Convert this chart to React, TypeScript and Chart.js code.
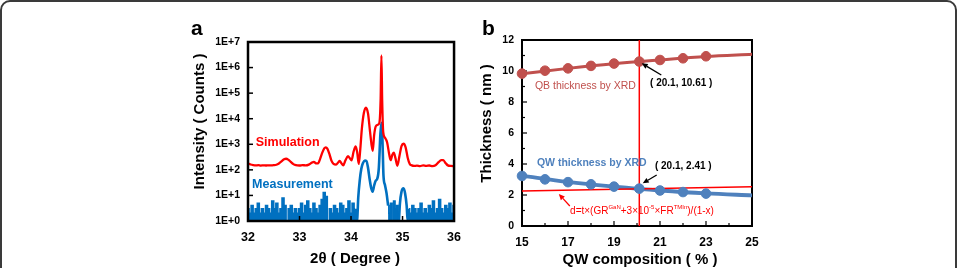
import React, { useEffect, useRef } from "react";
import { Chart, registerables } from "chart.js";
Chart.register(...registerables);

const FONT = "'Liberation Sans', Arial, Helvetica, sans-serif";
const RED = "#ff0000";
const BLUE = "#0070c0";
const QB_COLOR = "#c0504d";
const QW_COLOR = "#4f81bd";

// ---------------- Panel a : XRD scan ----------------
const simAngle = [
  32.0, 32.05, 32.1, 32.15, 32.2, 32.25, 32.3, 32.35, 32.4, 32.45, 32.5, 32.55, 32.6, 32.65, 32.7, 32.74,
  32.78, 32.83, 32.88, 32.93, 33.0, 33.06, 33.12, 33.18, 33.24, 33.28, 33.32, 33.36, 33.4, 33.44, 33.48,
  33.51, 33.54, 33.58, 33.62, 33.66, 33.71, 33.75, 33.78, 33.81, 33.85, 33.89, 33.94, 33.98, 34.01, 34.05,
  34.09, 34.12, 34.15, 34.18, 34.21, 34.25, 34.29, 34.33, 34.37, 34.42, 34.45, 34.48, 34.52, 34.55, 34.575,
  34.59, 34.605, 34.625, 34.66, 34.7, 34.74, 34.77, 34.8, 34.83, 34.86, 34.9, 34.94, 34.98, 35.02, 35.06,
  35.1, 35.14, 35.18, 35.22, 35.28, 35.34, 35.4, 35.46, 35.52, 35.58, 35.64, 35.7, 35.75, 35.79, 35.84,
  35.88, 35.94, 36.0,
];
const simIntensity = [
  175, 162, 154, 150, 152, 147, 151, 148, 150, 149, 152, 158, 178, 215, 258, 272,
  252, 205, 168, 152, 148, 154, 149, 160, 192, 205, 180, 178, 270, 460, 690,
  760, 680, 420, 230, 170, 160, 195, 222, 185, 150, 230, 340, 280, 235, 520,
  830, 480, 170, 650, 4000, 17000, 27000, 16000, 3000, 550, 2400, 5000, 5800, 6800, 60000,
  3000000, 50000, 3000, 1800, 1200, 420, 240, 380, 470, 300, 145, 350, 850, 1050, 760,
  300, 170, 150, 142, 147, 141, 149, 143, 148, 141, 152, 200, 240, 238, 180,
  150, 143, 140,
];

// measurement, background noise 32.00 - 34.08
const measNoiseAngle1 = [
  32.0, 32.04, 32.08, 32.12, 32.16, 32.2, 32.24, 32.28, 32.32, 32.36, 32.4, 32.44, 32.48, 32.52, 32.56,
  32.6, 32.64, 32.68, 32.72, 32.76, 32.8, 32.84, 32.88, 32.92, 32.96, 33.0, 33.04, 33.08, 33.12, 33.16,
  33.2, 33.24, 33.28, 33.32, 33.36, 33.4, 33.44, 33.48, 33.52, 33.56, 33.6, 33.64, 33.68, 33.72, 33.76,
  33.8, 33.84, 33.88, 33.92, 33.96, 34.0, 34.04, 34.08,
];
const measNoiseCount1 = [
  3, 2, 4, 2, 3, 5, 2, 3, 2, 4, 3, 2, 6, 3, 5,
  2, 3, 8, 4, 1, 3, 4, 2, 3, 2, 3, 5, 2, 4, 6,
  3, 2, 5, 3, 2, 4, 7, 13, 9, 1, 3, 2, 4, 3, 2,
  5, 4, 2, 3, 6, 2, 5, 3,
];
// measurement, main peaks 34.08 - 34.72
const measPeakAngle1 = [
  34.08, 34.1, 34.12, 34.14, 34.17, 34.2, 34.23, 34.27, 34.3, 34.33, 34.36, 34.39, 34.42, 34.45, 34.48,
  34.51, 34.54, 34.57, 34.59, 34.61, 34.63, 34.66, 34.69, 34.72,
];
const measPeakCount1 = [
  3, 1, 1.2, 8, 40, 110, 180, 230, 220, 120, 45, 20, 14, 25, 38,
  45, 120, 2500, 7000, 1500, 60, 25, 12, 4,
];
// measurement, noise 34.72 - 34.93
const measNoiseAngle2 = [34.72, 34.75, 34.78, 34.81, 34.84, 34.87, 34.9, 34.93];
const measNoiseCount2 = [4, 2, 5, 1, 6, 3, 4, 1];
// measurement, satellite peak 34.93 - 35.12
const measPeakAngle2 = [34.93, 34.95, 34.98, 35.02, 35.05, 35.08, 35.1, 35.12];
const measPeakCount2 = [1, 5, 14, 19, 12, 4, 1, 3];
// measurement, noise 35.12 - 36.00
const measNoiseAngle3 = [
  35.12, 35.16, 35.2, 35.24, 35.28, 35.32, 35.36, 35.4, 35.44, 35.48, 35.52, 35.56, 35.6, 35.64, 35.68,
  35.72, 35.76, 35.8, 35.84, 35.88, 35.92, 35.96, 36.0,
];
const measNoiseCount3 = [3, 2, 4, 3, 2, 3, 5, 2, 3, 2, 4, 3, 6, 2, 3, 7, 3, 2, 4, 3, 5, 2, 4];

const xTicksA = [32, 33, 34, 35, 36];
const yTicksA = [1, 10, 100, 1e3, 1e4, 1e5, 1e6, 1e7];
const yTickLabelsA = ["1E+0", "1E+1", "1E+2", "1E+3", "1E+4", "1E+5", "1E+6", "1E+7"];

// ---------------- Panel b : thickness vs composition ----------------
const markerComposition = [15, 16, 17, 18, 19, 20.1, 21, 22, 23];
const qbThickness = [9.83, 10.02, 10.17, 10.33, 10.48, 10.61, 10.71, 10.82, 10.95];
const qwThickness = [3.23, 3.01, 2.83, 2.69, 2.54, 2.41, 2.29, 2.19, 2.09];
const fitComposition = [15, 17, 19, 21, 23, 25];
const qbFit = [9.82, 10.17, 10.47, 10.71, 10.93, 11.08];
const qwFit = [3.25, 2.84, 2.54, 2.29, 2.1, 1.98];
const formulaComposition = [15, 25];
const formulaThickness = [2.26, 2.54];
const crossComposition = 20.1;
const xTicksB = [15, 17, 19, 21, 23, 25];
const yTicksB = [0, 2, 4, 6, 8, 10, 12];

const pts = (xs: number[], ys: number[]) => xs.map((x, i) => ({ x, y: ys[i] }));

function arrow(ctx: CanvasRenderingContext2D, x1: number, y1: number, x2: number, y2: number, color: string, width: number, head: number) {
  ctx.save();
  ctx.strokeStyle = color;
  ctx.fillStyle = color;
  ctx.lineWidth = width;
  const ang = Math.atan2(y2 - y1, x2 - x1);
  const bx = x2 - head * Math.cos(ang);
  const by = y2 - head * Math.sin(ang);
  ctx.beginPath();
  ctx.moveTo(x1, y1);
  ctx.lineTo(bx, by);
  ctx.stroke();
  const w = head * 0.45;
  ctx.beginPath();
  ctx.moveTo(x2, y2);
  ctx.lineTo(bx + w * Math.sin(ang), by - w * Math.cos(ang));
  ctx.lineTo(bx - w * Math.sin(ang), by + w * Math.cos(ang));
  ctx.closePath();
  ctx.fill();
  ctx.restore();
}

function seg(ctx: CanvasRenderingContext2D, x1: number, y1: number, x2: number, y2: number) {
  ctx.beginPath();
  ctx.moveTo(x1, y1);
  ctx.lineTo(x2, y2);
  ctx.stroke();
}

const panelAPlugin = {
  id: "panelA",
  afterDatasetsDraw(chart: any) {
    const { ctx, chartArea: ca, scales } = chart;
    const x = scales.x, y = scales.y;
    ctx.save();
    ctx.strokeStyle = "#000";
    ctx.lineWidth = 2.5;
    ctx.strokeRect(ca.left, ca.top, ca.right - ca.left, ca.bottom - ca.top);
    ctx.lineWidth = 1.5;
    yTicksA.forEach((v) => {
      const py = y.getPixelForValue(v);
      seg(ctx, ca.left, py, ca.left + 5, py);
    });
    xTicksA.forEach((v) => {
      const px = x.getPixelForValue(v);
      seg(ctx, px, ca.bottom, px, ca.bottom - 5);
    });
    // series labels
    ctx.font = `bold 12.5px ${FONT}`;
    ctx.textBaseline = "middle";
    ctx.textAlign = "left";
    ctx.fillStyle = RED;
    ctx.fillText("Simulation", x.getPixelForValue(32.15), y.getPixelForValue(1200));
    ctx.fillStyle = BLUE;
    ctx.fillText("Measurement", x.getPixelForValue(32.08), y.getPixelForValue(27));
    // panel letter
    ctx.fillStyle = "#000";
    ctx.textBaseline = "alphabetic";
    ctx.font = `bold 21px ${FONT}`;
    ctx.fillText("a", ca.left - 57, ca.top - 7);
    // axis titles
    ctx.font = `bold 15px ${FONT}`;
    ctx.textAlign = "center";
    ctx.fillText("2θ ( Degree )", (ca.left + ca.right) / 2 + 4, ca.bottom + 41.5);
    ctx.save();
    ctx.translate(ca.left - 48, ca.top + 79.5);
    ctx.rotate(-Math.PI / 2);
    ctx.textBaseline = "middle";
    ctx.fillText("Intensity ( Counts )", 0, 0);
    ctx.restore();
    ctx.restore();
  },
};

const panelBPlugin = {
  id: "panelB",
  beforeDatasetsDraw(chart: any) {
    const { ctx, chartArea: ca, scales } = chart;
    const x = scales.x, y = scales.y;
    ctx.save();
    ctx.strokeStyle = "#000";
    ctx.lineWidth = 2;
    ctx.strokeRect(ca.left, ca.top, ca.right - ca.left, ca.bottom - ca.top);
    ctx.lineWidth = 1.2;
    for (let v = 0; v <= 12; v += 1) {
      const py = y.getPixelForValue(v);
      seg(ctx, ca.left, py, ca.left + (v % 2 === 0 ? 5 : 3), py);
    }
    for (let v = 15; v <= 25; v += 1) {
      const px = x.getPixelForValue(v);
      seg(ctx, px, ca.bottom, px, ca.bottom - (v % 2 === 1 ? 5 : 3));
    }
    ctx.restore();
  },
  afterDatasetsDraw(chart: any) {
    const { ctx, chartArea: ca, scales } = chart;
    const x = scales.x, y = scales.y;
    ctx.save();
    ctx.textBaseline = "middle";
    ctx.textAlign = "left";
    ctx.font = `10.5px ${FONT}`;
    ctx.fillStyle = QB_COLOR;
    ctx.fillText("QB thickness by XRD", x.getPixelForValue(15.56), y.getPixelForValue(9.0));
    ctx.fillStyle = QW_COLOR;
    ctx.font = `bold 10.5px ${FONT}`;
    ctx.fillText("QW thickness by XRD", x.getPixelForValue(15.65), y.getPixelForValue(4.03));
    ctx.fillStyle = "#000";
    ctx.font = `bold 10px ${FONT}`;
    ctx.fillText("( 20.1, 10.61 )", x.getPixelForValue(20.57), y.getPixelForValue(9.23));
    ctx.fillText("( 20.1, 2.41 )", x.getPixelForValue(20.78), y.getPixelForValue(3.87));

    // arrows
    const pxB = x.getPixelForValue(crossComposition);
    const pyQB = y.getPixelForValue(10.61);
    arrow(ctx, pxB + 22, pyQB + 13.5, pxB + 2.4, pyQB + 1.8, "#000", 1.3, 6);
    const pyQW = y.getPixelForValue(2.41);
    arrow(ctx, pxB + 17.4, pyQW - 13.6, pxB + 3.4, pyQW - 5.3, "#000", 1.3, 6);
    const fx = x.getPixelForValue(16.6);
    const fy = y.getPixelForValue(2.3);
    arrow(ctx, fx + 11, fy + 15.6, fx, fy + 3.6, RED, 1.3, 6);

    // formula
    ctx.fillStyle = RED;
    ctx.textBaseline = "middle";
    const parts: [string, boolean][] = [
      ["d=t×(GR", false], ["GaN", true], ["+3×10", false], ["-5", true],
      ["×FR", false], ["TMIn", true], [")/(1-x)", false],
    ];
    let cx = x.getPixelForValue(17.09);
    const cy = y.getPixelForValue(0.97);
    for (const [t, sup] of parts) {
      ctx.font = sup ? `6px ${FONT}` : `10px ${FONT}`;
      ctx.fillText(t, cx, sup ? cy - 4 : cy);
      cx += ctx.measureText(t).width;
    }

    // panel letter + axis titles
    ctx.fillStyle = "#000";
    ctx.textBaseline = "alphabetic";
    ctx.font = `bold 21px ${FONT}`;
    ctx.fillText("b", ca.left - 40, ca.top - 5);
    ctx.font = `bold 15px ${FONT}`;
    ctx.textAlign = "center";
    ctx.fillText("QW composition ( % )", (ca.left + ca.right) / 2 + 3, ca.bottom + 38);
    ctx.save();
    ctx.translate(ca.left - 35, ca.top + 83.5);
    ctx.rotate(-Math.PI / 2);
    ctx.textBaseline = "middle";
    ctx.fillText("Thickness ( nm )", 0, 0);
    ctx.restore();
    ctx.restore();
  },
};

function makeConfigA(): any {
  const noise = (xs: number[], ys: number[]) => ({
    data: pts(xs, ys),
    borderColor: BLUE,
    backgroundColor: BLUE,
    borderWidth: 1.5,
    fill: "start",
    pointRadius: 0,
    stepped: "middle",
    order: 3,
  });
  const peak = (xs: number[], ys: number[]) => ({
    data: pts(xs, ys),
    borderColor: BLUE,
    borderWidth: 2.6,
    fill: false,
    pointRadius: 0,
    cubicInterpolationMode: "monotone",
    order: 2,
  });
  return {
    type: "line",
    data: {
      datasets: [
        {
          label: "Simulation",
          data: pts(simAngle, simIntensity),
          borderColor: RED,
          borderWidth: 2.3,
          fill: false,
          pointRadius: 0,
          cubicInterpolationMode: "monotone",
          order: 1,
        },
        noise(measNoiseAngle1, measNoiseCount1),
        peak(measPeakAngle1, measPeakCount1),
        noise(measNoiseAngle2, measNoiseCount2),
        peak(measPeakAngle2, measPeakCount2),
        noise(measNoiseAngle3, measNoiseCount3),
      ],
    },
    options: {
      animation: false,
      responsive: false,
      layout: { padding: { left: 0, right: 12, top: 30, bottom: 0 } },
      plugins: { legend: { display: false }, tooltip: { enabled: false } },
      scales: {
        x: {
          type: "linear",
          min: 32,
          max: 36,
          afterBuildTicks: (s: any) => { s.ticks = xTicksA.map((v) => ({ value: v })); },
          afterFit: (s: any) => { s.height = 47; },
          ticks: { color: "#000", padding: 9, font: { family: FONT, size: 12.5, weight: "bold" }, callback: (v: number) => String(v) },
          grid: { display: false, drawTicks: false },
          border: { display: false },
        },
        y: {
          type: "logarithmic",
          min: 1,
          max: 1e7,
          afterBuildTicks: (s: any) => { s.ticks = yTicksA.map((v) => ({ value: v })); },
          afterFit: (s: any) => { s.width = 78; },
          ticks: {
            color: "#000",
            padding: 8,
            font: { family: FONT, size: 10.5, weight: "bold" },
            callback: (v: number) => {
              const i = yTicksA.findIndex((t) => Math.abs(Math.log10(t) - Math.log10(v)) < 1e-6);
              return i >= 0 ? yTickLabelsA[i] : "";
            },
          },
          grid: { display: false, drawTicks: false },
          border: { display: false },
        },
      },
    },
    plugins: [panelAPlugin],
  };
}

function makeConfigB(): any {
  return {
    type: "line",
    data: {
      datasets: [
        {
          label: "QB markers",
          data: pts(markerComposition, qbThickness),
          showLine: false,
          pointRadius: 4.8,
          pointBackgroundColor: QB_COLOR,
          pointBorderColor: QB_COLOR,
          borderColor: QB_COLOR,
          clip: 8,
          order: 1,
        },
        {
          label: "QW markers",
          data: pts(markerComposition, qwThickness),
          showLine: false,
          pointRadius: 4.8,
          pointBackgroundColor: QW_COLOR,
          pointBorderColor: QW_COLOR,
          borderColor: QW_COLOR,
          clip: 8,
          order: 1,
        },
        {
          label: "QB fit",
          data: pts(fitComposition, qbFit),
          borderColor: QB_COLOR,
          borderWidth: 3,
          pointRadius: 0,
          cubicInterpolationMode: "monotone",
          order: 3,
        },
        {
          label: "QW fit",
          data: pts(fitComposition, qwFit),
          borderColor: QW_COLOR,
          borderWidth: 3.8,
          pointRadius: 0,
          cubicInterpolationMode: "monotone",
          order: 3,
        },
        {
          label: "Formula",
          data: pts(formulaComposition, formulaThickness),
          borderColor: RED,
          borderWidth: 1.5,
          pointRadius: 0,
          order: 2,
        },
        {
          label: "Composition 20.1",
          data: pts([crossComposition, crossComposition], [0, 12]),
          borderColor: RED,
          borderWidth: 1.5,
          pointRadius: 0,
          order: 2,
        },
      ],
    },
    options: {
      animation: false,
      responsive: false,
      layout: { padding: { left: 0, right: 18, top: 28, bottom: 0 } },
      plugins: { legend: { display: false }, tooltip: { enabled: false } },
      scales: {
        x: {
          type: "linear",
          min: 15,
          max: 25,
          afterBuildTicks: (s: any) => { s.ticks = xTicksB.map((v) => ({ value: v })); },
          afterFit: (s: any) => { s.height = 42; },
          ticks: { color: "#000", padding: 9, font: { family: FONT, size: 12, weight: "bold" }, callback: (v: number) => String(v) },
          grid: { display: false, drawTicks: false },
          border: { display: false },
        },
        y: {
          type: "linear",
          min: 0,
          max: 12,
          afterBuildTicks: (s: any) => { s.ticks = yTicksB.map((v) => ({ value: v })); },
          afterFit: (s: any) => { s.width = 52; },
          ticks: { color: "#000", padding: 8, font: { family: FONT, size: 10.5, weight: "bold" }, callback: (v: number) => String(v) },
          grid: { display: false, drawTicks: false },
          border: { display: false },
        },
      },
    },
    plugins: [panelBPlugin],
  };
}

function ChartCanvas(props: { make: () => any; left: number; top: number; width: number; height: number }) {
  const ref = useRef<HTMLCanvasElement | null>(null);
  useEffect(() => {
    if (!ref.current) return;
    const chart = new Chart(ref.current, props.make());
    return () => chart.destroy();
  }, []);
  return (
    <canvas
      ref={ref}
      width={props.width}
      height={props.height}
      style={{ position: "absolute", left: props.left, top: props.top, width: props.width, height: props.height }}
    />
  );
}

export default function App() {
  return (
    <div style={{ position: "absolute", left: 0, top: 0, width: 957, height: 268, overflow: "hidden", background: "#fff" }}>
      <div
        style={{
          position: "absolute",
          left: 0,
          top: 0,
          width: 957,
          height: 320,
          boxSizing: "border-box",
          border: "2px solid #3a3a3a",
          borderRadius: 10,
        }}
      />
      <ChartCanvas make={makeConfigA} left={170} top={12} width={300} height={256} />
      <ChartCanvas make={makeConfigB} left={470} top={12} width={300} height={256} />
    </div>
  );
}
